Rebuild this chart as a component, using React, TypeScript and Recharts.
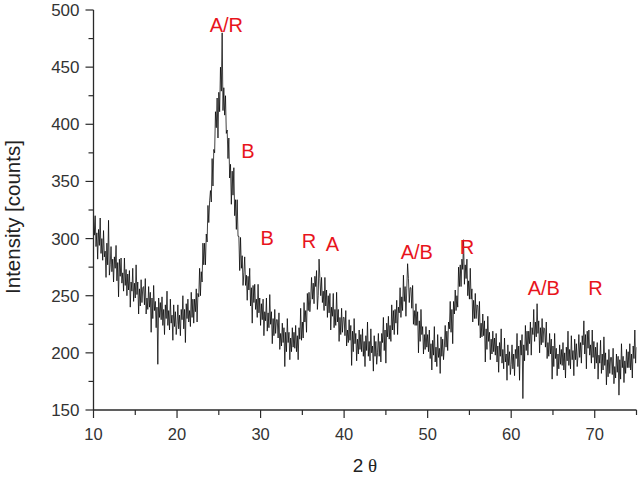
import { LineChart, Line, XAxis, YAxis, ReferenceDot } from 'recharts';

// XRD counts, one value every 0.1 deg of 2-theta
const counts10to20 = [
  320, 303, 320, 293, 305, 282, 308, 294, 318, 287,
  300, 281, 307, 284, 289, 266, 296, 277, 316, 268,
  277, 293, 271, 282, 262, 284, 274, 294, 263, 279,
  249, 282, 267, 283, 261, 270, 254, 283, 259, 273,
  250, 269, 255, 272, 240, 262, 254, 274, 245, 261,
  248, 277, 251, 262, 234, 256, 241, 264, 244, 257,
  258, 242, 265, 234, 248, 238, 258, 240, 253, 218,
  248, 230, 259, 237, 245, 222, 240, 190, 248, 231,
  244, 229, 249, 224, 238, 216, 242, 230, 254, 224,
  237, 220, 247, 226, 233, 211, 242, 223, 236, 216,
];
const counts20to30 = [
  225, 242, 221, 233, 215, 238, 229, 250, 221, 238,
  209, 243, 230, 247, 227, 237, 223, 253, 231, 247,
  226, 247, 236, 256, 227, 252, 249, 274, 250, 271,
  262, 296, 277, 296, 277, 304, 297, 329, 314, 333,
  342, 332, 370, 346, 378, 375, 411, 397, 423, 388,
  428, 411, 450, 429, 480, 412, 432, 408, 425, 392,
  395, 370, 388, 353, 365, 330, 359, 338, 362, 320,
  334, 308, 334, 302, 302, 272, 301, 274, 285, 259,
  270, 284, 259, 268, 246, 267, 255, 274, 241, 257,
  226, 259, 244, 260, 238, 247, 231, 260, 235, 248,
];
const counts30to40 = [
  224, 243, 229, 247, 215, 236, 228, 248, 219, 235,
  222, 251, 225, 236, 208, 230, 215, 238, 217, 229,
  229, 213, 235, 203, 217, 206, 226, 209, 222, 188,
  218, 201, 230, 209, 218, 194, 213, 201, 222, 205,
  218, 204, 224, 201, 215, 194, 222, 212, 239, 211,
  227, 213, 244, 227, 237, 218, 252, 237, 253, 236,
  247, 266, 247, 261, 243, 267, 258, 272, 238, 250,
  282, 265, 250, 266, 244, 254, 237, 266, 241, 255,
  231, 250, 235, 252, 220, 240, 232, 252, 222, 238,
  224, 253, 227, 238, 210, 231, 216, 239, 218, 231,
];
const counts40to50 = [
  231, 215, 237, 206, 220, 209, 229, 211, 224, 189,
  219, 201, 230, 208, 217, 193, 212, 199, 220, 203,
  216, 201, 221, 197, 210, 188, 215, 202, 227, 197,
  210, 193, 221, 200, 206, 184, 215, 197, 210, 190,
  200, 217, 197, 210, 192, 217, 209, 231, 202, 220,
  191, 226, 214, 232, 212, 224, 210, 242, 220, 237,
  216, 238, 226, 246, 216, 240, 235, 257, 231, 249,
  237, 268, 245, 258, 232, 256, 278, 265, 244, 257,
  257, 239, 259, 225, 237, 224, 243, 224, 236, 200,
  228, 210, 238, 216, 223, 199, 216, 203, 223, 205,
];
const counts50to60 = [
  216, 201, 220, 195, 208, 185, 211, 198, 223, 192,
  205, 188, 216, 196, 204, 182, 214, 197, 212, 194,
  205, 224, 205, 219, 202, 227, 221, 245, 218, 238,
  208, 245, 234, 255, 237, 250, 240, 275, 258, 277,
  258, 282, 273, 299, 260, 277, 265, 282, 250, 263,
  247, 274, 247, 256, 227, 246, 230, 252, 230, 242,
  241, 224, 245, 213, 226, 214, 234, 215, 228, 192,
  221, 203, 232, 210, 218, 194, 212, 199, 219, 201,
  213, 198, 217, 192, 206, 183, 209, 197, 221, 191,
  203, 186, 213, 192, 199, 176, 207, 189, 201, 181,
];
const counts60to70 = [
  190, 207, 186, 199, 180, 203, 195, 217, 188, 206,
  176, 211, 198, 216, 160, 207, 193, 224, 202, 219,
  198, 219, 208, 227, 198, 222, 216, 238, 210, 227,
  214, 243, 217, 228, 200, 222, 207, 230, 209, 222,
  221, 205, 227, 195, 209, 197, 217, 199, 212, 177,
  206, 188, 217, 195, 204, 180, 199, 186, 207, 190,
  203, 189, 209, 185, 200, 178, 205, 193, 219, 189,
  203, 186, 215, 194, 202, 180, 212, 194, 208, 188,
  198, 216, 196, 209, 191, 215, 207, 228, 199, 216,
  186, 219, 204, 220, 198, 207, 191, 220, 196, 210,
];
const counts70to75 = [
  186, 205, 191, 209, 177, 198, 191, 211, 182, 199,
  185, 214, 189, 200, 172, 194, 179, 203, 182, 196,
  196, 181, 204, 173, 188, 178, 199, 183, 197, 163,
  194, 177, 208, 187, 197, 174, 193, 182, 203, 187,
  201, 187, 208, 185, 199, 178, 206, 195, 220, 191, 205,
];

const startAngle = 10;
const angleStep = 0.1;

const xTicks = [10, 15, 20, 25, 30, 35, 40, 45, 50, 55, 60, 65, 70, 75];
const xLabelled = [10, 20, 30, 40, 50, 60, 70];
const yTicks = [150, 175, 200, 225, 250, 275, 300, 325, 350, 375, 400, 425, 450, 475, 500];
const yLabelled = [150, 200, 250, 300, 350, 400, 450, 500];

// phase labels: text, 2-theta, counts (centre of the label)
const phaseNames = ['A/R', 'B', 'B', 'R', 'A', 'A/B', 'R', 'A/B', 'R'];
const phaseAngles = [25.9, 28.5, 30.8, 35.8, 38.6, 48.7, 54.7, 63.9, 70.1];
const phaseCounts = [487, 377, 301, 298, 295, 288, 293, 257, 257];

const allCounts = [
  ...counts10to20, ...counts20to30, ...counts30to40, ...counts40to50,
  ...counts50to60, ...counts60to70, ...counts70to75,
];
const data = allCounts.map((c, i) => ({
  twoTheta: +(startAngle + i * angleStep).toFixed(1),
  counts: c,
}));

const FONT = 'Arial, "Liberation Sans", Helvetica, sans-serif';
const AXIS = '#2a2a2a';

const XTick = (props: any) => {
  const { x, y, payload } = props;
  const major = xLabelled.includes(payload.value);
  return (
    <g>
      <line x1={x} y1={y} x2={x} y2={y + (major ? 8 : 5)} stroke={AXIS} strokeWidth={1.2} />
      {major && (
        <text x={x} y={y + 29.5} textAnchor="middle" fontSize={16.5} fill="#333" fontFamily={FONT}>
          {payload.value}
        </text>
      )}
    </g>
  );
};

const YTick = (props: any) => {
  const { x, y, payload } = props;
  const major = yLabelled.includes(payload.value);
  return (
    <g>
      <line x1={x} y1={y} x2={x - (major ? 8 : 5)} y2={y} stroke={AXIS} strokeWidth={1.2} />
      {major && (
        <text x={x - 14} y={y + 6} textAnchor="end" fontSize={17} fill="#333" fontFamily={FONT}>
          {payload.value}
        </text>
      )}
    </g>
  );
};

export default function App() {
  return (
    <div style={{ position: 'absolute', left: 0, top: 0, width: 640, height: 478 }}>
      <LineChart
        width={640}
        height={478}
        data={data}
        margin={{ top: 10, right: 3.5, left: 0, bottom: 0 }}
        style={{ overflow: 'visible' }}
      >
        <XAxis
          dataKey="twoTheta"
          type="number"
          domain={[10, 75]}
          ticks={xTicks}
          interval={0}
          height={68}
          tickSize={0}
          tickMargin={0}
          tickLine={false}
          tick={<XTick />}
          axisLine={{ stroke: AXIS, strokeWidth: 1.3 }}
          allowDataOverflow
        />
        <XAxis
          xAxisId="frameTop"
          orientation="top"
          type="number"
          domain={[10, 75]}
          height={0}
          tick={false}
          tickLine={false}
          axisLine={{ stroke: AXIS, strokeWidth: 1.3 }}
        />
        <YAxis
          type="number"
          domain={[150, 500]}
          ticks={yTicks}
          interval={0}
          width={93.5}
          tickSize={0}
          tickMargin={0}
          tickLine={false}
          tick={<YTick />}
          axisLine={{ stroke: AXIS, strokeWidth: 1.3 }}
          allowDataOverflow
        />
        <YAxis
          yAxisId="frameRight"
          orientation="right"
          type="number"
          domain={[150, 500]}
          width={0}
          tick={false}
          tickLine={false}
          axisLine={{ stroke: AXIS, strokeWidth: 1.3 }}
        />
        <Line
          type="linear"
          dataKey="counts"
          stroke="#000"
          strokeWidth={0.75}
          dot={false}
          isAnimationActive={false}
        />
        {phaseNames.map((name, i) => (
          <ReferenceDot
            key={i}
            x={phaseAngles[i]}
            y={phaseCounts[i]}
            r={0}
            stroke="none"
            fill="none"
            label={{ value: name, position: 'center', fill: '#e8141c', fontSize: 20, fontFamily: FONT }}
          />
        ))}
      </LineChart>
      <div
        style={{
          position: 'absolute',
          left: 3,
          top: 207,
          width: 20,
          height: 20,
          transform: 'rotate(-90deg)',
          display: 'flex',
          alignItems: 'center',
          justifyContent: 'center',
          whiteSpace: 'nowrap',
          fontFamily: FONT,
          fontSize: 20.5,
          lineHeight: 1,
          color: '#222',
        }}
      >
        Intensity [counts]
      </div>
      <div
        style={{
          position: 'absolute',
          left: 340,
          top: 456,
          width: 50,
          textAlign: 'center',
          whiteSpace: 'nowrap',
          fontSize: 19,
          lineHeight: '19px',
          color: '#222',
        }}
      >
        <span style={{ fontFamily: FONT }}>2</span>{' '}
        <span style={{ fontFamily: '"Liberation Serif", "DejaVu Serif", serif' }}>θ</span>
      </div>
    </div>
  );
}
